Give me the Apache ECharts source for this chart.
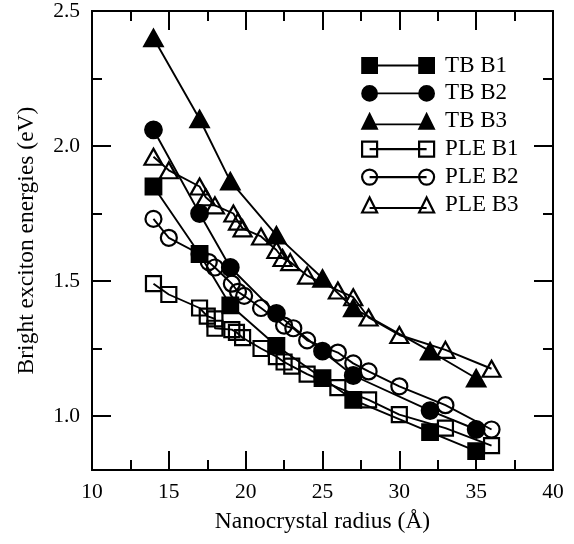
<!DOCTYPE html>
<html>
<head>
<meta charset="utf-8">
<title>Bright exciton energies</title>
<script src="https://cdn.jsdelivr.net/npm/echarts@6/dist/echarts.min.js"></script>
<style>
html, body { margin: 0; padding: 0; background: #fff; }
#bar_chart { width: 574px; height: 544px; }
</style>
</head>
<body>
<div id="bar_chart"></div>
<script>
// TB 计算值
var tbRadius = [14, 17, 19, 22, 25, 27, 32, 35];
var tbB1 = [1.85, 1.60, 1.41, 1.26, 1.14, 1.06, 0.94, 0.87];
var tbB2 = [2.06, 1.75, 1.55, 1.38, 1.24, 1.15, 1.02, 0.95];
var tbB3 = [2.40, 2.10, 1.87, 1.67, 1.51, 1.40, 1.24, 1.14];

// PLE 实验值
var pleB1Radius = [14, 15, 17, 17.5, 18, 18, 19.1, 19.4, 19.8, 21, 22, 22.5, 23, 24, 26, 28, 30, 33, 36];
var pleB1 = [1.49, 1.45, 1.40, 1.37, 1.36, 1.325, 1.32, 1.31, 1.29, 1.25, 1.22, 1.20, 1.185, 1.155, 1.105, 1.06, 1.005, 0.955, 0.89];
var pleB2Radius = [14, 15, 17, 17.6, 18, 19.1, 19.5, 19.9, 21, 22.5, 23.1, 24, 26, 27, 28, 30, 33, 36];
var pleB2 = [1.73, 1.66, 1.60, 1.57, 1.55, 1.49, 1.46, 1.445, 1.40, 1.335, 1.325, 1.28, 1.235, 1.195, 1.165, 1.11, 1.04, 0.95];
var pleB3Radius = [14, 15, 17, 17.4, 18, 19.2, 19.5, 19.8, 21, 22, 22.4, 22.9, 24, 26, 27, 28, 30, 33, 36];
var pleB3 = [1.96, 1.91, 1.85, 1.81, 1.78, 1.75, 1.72, 1.695, 1.665, 1.615, 1.585, 1.57, 1.52, 1.465, 1.44, 1.365, 1.30, 1.245, 1.175];

// 坐标轴刻度
var xTicks = [10, 15, 20, 25, 30, 35, 40];
var yMajorTicks = [1.0, 1.5, 2.0, 2.5];
var yMinorTicks = [1.25, 1.75, 2.25];

var fontName = "'Liberation Serif', 'Times New Roman', serif";

function $$(element) {
    return document.getElementById(element);
}

function pairs(xs, ys) {
    var list = [];
    for (var i = 0; i < xs.length; i++) {
        list.push([xs[i], ys[i]]);
    }
    return list;
}

// 图例图标：两端各一个标记，中间连线
var iconSquare = 'path://M0,0.5 H15 V15.5 H0 Z M7.5,8 H64.5 M57,0.5 H72 V15.5 H57 Z';
var iconCircle = 'path://M0,8 A7.5,7.5 0 1 1 15,8 A7.5,7.5 0 1 1 0,8 Z M7.5,8 H64.5 M57,8 A7.5,7.5 0 1 1 72,8 A7.5,7.5 0 1 1 57,8 Z';
var iconTriangle = 'path://M0,15.5 L7.5,0.5 L15,15.5 Z M7.5,11 H64.5 M57,15.5 L64.5,0.5 L72,15.5 Z';

var filledStyle = { color: '#000', borderColor: '#000', borderWidth: 1.8 };
var openStyle = { color: 'rgba(0,0,0,0)', borderColor: '#000', borderWidth: 2.2 };

function makeSeries(name, data, symbol, size, style) {
    return {
        name: name,
        type: 'line',
        data: data,
        symbol: symbol,
        symbolSize: size,
        showAllSymbol: true,
        itemStyle: style,
        lineStyle: { color: '#000', width: 1.9 },
        emphasis: { disabled: true }
    };
}

function tickAxis(pos, values, len, labels) {
    return {
        type: 'value',
        position: pos,
        min: 0.8,
        max: 2.5,
        splitLine: { show: false },
        axisLine: { show: true, lineStyle: { color: '#000', width: 2 } },
        axisTick: { show: true, inside: true, length: len, customValues: values, lineStyle: { color: '#000', width: 2 } },
        axisLabel: labels ? {
            show: true, customValues: values, margin: 12,
            color: '#000', fontFamily: fontName, fontSize: 21.5,
            formatter: function (v) { return v.toFixed(1); }
        } : { show: false }
    };
}

window.onload = function () {
    var myChart = echarts.init($$('bar_chart'));

    var yLeft = tickAxis('left', yMajorTicks, 19, true);
    yLeft.name = 'Bright exciton energies (eV)';
    yLeft.nameLocation = 'middle';
    yLeft.nameGap = 53;
    yLeft.nameTextStyle = { color: '#000', fontFamily: fontName, fontSize: 23.5 };

    var xBase = {
        type: 'value',
        min: xTicks[0],
        max: xTicks[xTicks.length - 1],
        interval: 5,
        splitLine: { show: false },
        axisLine: { show: true, lineStyle: { color: '#000', width: 2 } },
        axisTick: { show: true, inside: true, length: 19, lineStyle: { color: '#000', width: 2 } },
        minorTick: { show: true, splitNumber: 2, length: 10, lineStyle: { color: '#000', width: 2 } }
    };
    var xBottom = Object.assign({}, xBase, {
        position: 'bottom',
        axisLabel: { color: '#000', fontFamily: fontName, fontSize: 21.5, margin: 11 },
        name: 'Nanocrystal radius (Å)',
        nameLocation: 'middle',
        nameGap: 40,
        nameTextStyle: { color: '#000', fontFamily: fontName, fontSize: 23.5 }
    });
    var xTop = Object.assign({}, xBase, { position: 'top', axisLabel: { show: false } });

    var option = {
        animation: false,
        backgroundColor: '#fff',
        grid: { left: 92, right: 21, top: 11, bottom: 74, containLabel: false },
        legend: {
            orient: 'vertical',
            left: 356,
            top: 49,
            itemWidth: 72,
            itemHeight: 17,
            itemGap: 4.9,
            selectedMode: false,
            textStyle: { color: '#000', fontFamily: fontName, fontSize: 23, padding: [0, 0, 0, 6] },
            data: [
                { name: 'TB B1', icon: iconSquare, itemStyle: filledStyle },
                { name: 'TB B2', icon: iconCircle, itemStyle: filledStyle },
                { name: 'TB B3', icon: iconTriangle, itemStyle: filledStyle },
                { name: 'PLE B1', icon: iconSquare, itemStyle: openStyle },
                { name: 'PLE B2', icon: iconCircle, itemStyle: openStyle },
                { name: 'PLE B3', icon: iconTriangle, itemStyle: openStyle }
            ]
        },
        xAxis: [xBottom, xTop],
        yAxis: [
            yLeft,
            tickAxis('left', yMinorTicks, 10, false),
            tickAxis('right', yMajorTicks, 19, false),
            tickAxis('right', yMinorTicks, 10, false)
        ],
        series: [
            makeSeries('PLE B1', pairs(pleB1Radius, pleB1), 'rect', 15, openStyle),
            makeSeries('PLE B2', pairs(pleB2Radius, pleB2), 'circle', 16, openStyle),
            makeSeries('PLE B3', pairs(pleB3Radius, pleB3), 'triangle', [18, 16], openStyle),
            makeSeries('TB B1', pairs(tbRadius, tbB1), 'rect', 16, filledStyle),
            makeSeries('TB B2', pairs(tbRadius, tbB2), 'circle', 17, filledStyle),
            makeSeries('TB B3', pairs(tbRadius, tbB3), 'triangle', [19, 17], filledStyle)
        ]
    };
    myChart.setOption(option);
};
</script>
</body>
</html>
